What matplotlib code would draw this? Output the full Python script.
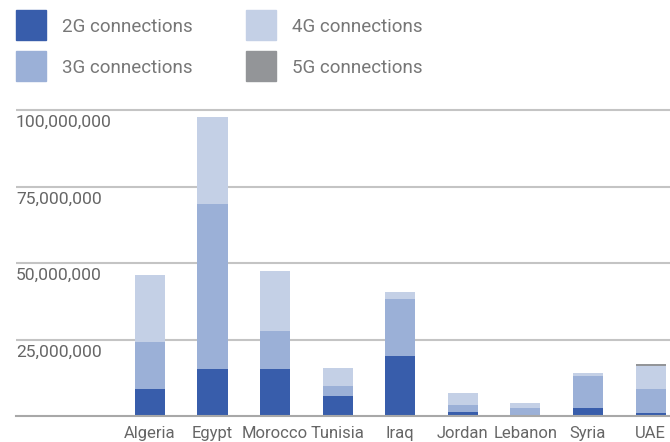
import numpy as np
import matplotlib.pyplot as plt
from matplotlib.patches import Rectangle
from matplotlib.transforms import blended_transform_factory

plt.rcParams['font.family'] = ['Roboto', 'DejaVu Sans']

countries = ['Algeria', 'Egypt', 'Morocco', 'Tunisia', 'Iraq', 'Jordan', 'Lebanon', 'Syria', 'UAE']
g2 = [8.8, 15.4, 15.4, 6.6, 19.6, 1.3, 0.4, 2.6, 1.0]
g3 = [15.3, 53.9, 12.4, 3.2, 18.5, 2.3, 2.2, 10.5, 7.8]
g4 = [22.0, 28.5, 19.6, 6.0, 2.4, 3.9, 1.6, 1.0, 7.6]
g5 = [0, 0, 0, 0, 0, 0, 0, 0, 0.6]
yticks = [25e6, 50e6, 75e6, 100e6]

series_names = ['2G connections', '3G connections', '4G connections', '5G connections']
colors = ['#385dab', '#9bb0d7', '#c4d0e6', '#939598']

fig = plt.figure(figsize=(6.7, 4.42), dpi=100)
W, H = 670, 442
ax = fig.add_axes([16 / W, (H - 416) / H, 1 - 16 / W, (416 - 100) / H])

x = np.arange(len(countries))
bottom = np.zeros(len(countries))
for vals, c in zip([g2, g3, g4, g5], colors):
    v = np.array(vals) * 1e6
    ax.bar(x, v, width=0.48, bottom=bottom, color=c, zorder=3)
    bottom += v

ax.set_xlim(-2.14, 8.31)
ax.set_ylim(0, 103.3e6)

for s in ['top', 'right', 'left']:
    ax.spines[s].set_visible(False)
ax.spines['bottom'].set_color('#a8a8a8')
ax.spines['bottom'].set_linewidth(1.5)
ax.spines['bottom'].set_zorder(4)

ax.set_yticks(yticks)
ax.set_yticklabels([])
ax.tick_params(axis='y', length=0)
ax.grid(axis='y', color='#c4c4c4', linewidth=1.5, zorder=0)
trans = blended_transform_factory(ax.transAxes, ax.transData)
for t in yticks:
    ax.text(0, t - 1.7e6, f'{int(t):,}', transform=trans, ha='left', va='top',
            fontsize=12.6, color='#666666')

ax.set_xticks(x)
ax.set_xticklabels(countries, fontsize=12, color='#666666')
ax.tick_params(axis='x', length=0, pad=7)

# legend
for i, (name, c) in enumerate(zip(series_names, colors)):
    col, row = i // 2, i % 2
    x0 = 16 + col * 230
    y0 = 10 + row * 41
    fig.add_artist(Rectangle((x0 / W, 1 - (y0 + 30) / H), 30 / W, 30 / H,
                             transform=fig.transFigure, color=c))
    fig.text((x0 + 46) / W, 1 - (y0 + 17) / H, name, ha='left', va='center',
             fontsize=13.5, color='#777777')

fig.savefig('out.png', dpi=100)
